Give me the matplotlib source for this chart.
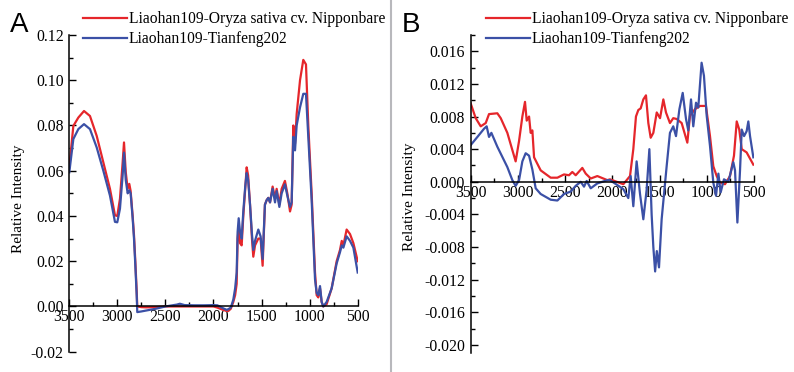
import numpy as np
import matplotlib
matplotlib.use("Agg")
import matplotlib.pyplot as plt
from matplotlib.ticker import MultipleLocator, FormatStrFormatter

plt.rcParams['font.family'] = ['Liberation Serif', 'DejaVu Serif']
plt.rcParams['axes.unicode_minus'] = False

RED = "#e5262b"
BLUE = "#3b50a6"
labels = ["Liaohan109-Oryza sativa cv. Nipponbare", "Liaohan109-Tianfeng202"]

# panel A: wavenumber / relative intensity
a_wn = [3500, 3458, 3406, 3347, 3285, 3215, 3146, 3077, 3025, 3001, 2973, 2945, 2931, 2913,
        2893, 2876, 2862, 2841, 2827, 2813, 2799, 2793, 2750, 2700, 2600, 2500, 2400, 2383,
        2350, 2300, 2200, 2100, 2000, 1960, 1900, 1863, 1846, 1820, 1794, 1775, 1759,
        1749, 1738, 1724, 1707, 1690, 1670, 1655, 1640, 1620, 1600, 1586, 1568, 1534,
        1510, 1489, 1465, 1447, 1430, 1412, 1385, 1360, 1343, 1315, 1291, 1257, 1232,
        1204, 1187, 1170, 1152, 1135, 1100, 1066, 1038, 1014, 979, 944, 927, 910, 892,
        875, 858, 823, 771, 719, 684, 666, 649, 615, 580, 545, 500]
a_red = [0.0615, 0.0798, 0.0835, 0.0864, 0.0842, 0.0754, 0.0637, 0.052, 0.0403, 0.040, 0.0476, 0.0637, 0.0725, 0.0595,
         0.052, 0.0542, 0.051, 0.040, 0.0315, 0.0198, 0.0067, 0.000, -0.0003, -0.0004, -0.0003, 0.0, 0.0, 0.0,
         0.0, 0.0, 0.0, 0.0, 0.0, -0.0005, -0.0015, -0.002, -0.002, -0.001, 0.002, 0.005, 0.010,
         0.030, 0.035, 0.028, 0.027, 0.040, 0.052, 0.0615, 0.058, 0.045, 0.030, 0.022, 0.027, 0.030,
         0.030, 0.018, 0.045, 0.047, 0.048, 0.046, 0.053, 0.048, 0.052, 0.045, 0.052, 0.0555, 0.050,
         0.042, 0.045, 0.080, 0.072, 0.085, 0.100, 0.109, 0.107, 0.080, 0.050, 0.015, 0.005, 0.004, 0.008,
         0.002, 0.000, 0.001, 0.008, 0.020, 0.025, 0.029, 0.027, 0.034, 0.032, 0.028, 0.020]
a_blue = [0.0593, 0.074, 0.0784, 0.0806, 0.0784, 0.0703, 0.060, 0.049, 0.0374, 0.0372, 0.0432, 0.058, 0.068, 0.056,
          0.050, 0.0513, 0.050, 0.039, 0.030, 0.018, 0.005, -0.0025, -0.0022, -0.0018, -0.001, 0.0, 0.0007, 0.0008,
          0.0012, 0.0006, 0.0005, 0.0005, 0.0006, 0.0005, -0.0008, -0.0015, -0.0012, -0.0005, 0.003, 0.008, 0.015,
          0.033, 0.039, 0.033, 0.030, 0.042, 0.053, 0.059, 0.056, 0.045, 0.032, 0.025, 0.029, 0.034,
          0.031, 0.021, 0.045, 0.047, 0.048, 0.046, 0.052, 0.046, 0.051, 0.044, 0.050, 0.054, 0.049,
          0.044, 0.046, 0.075, 0.069, 0.080, 0.088, 0.094, 0.094, 0.075, 0.047, 0.012, 0.006, 0.005, 0.009,
          0.002, 0.000, 0.002, 0.008, 0.019, 0.024, 0.027, 0.026, 0.031, 0.029, 0.026, 0.015]

# panel B: difference spectra
b_red_wn = [3500, 3447, 3394, 3341, 3306, 3218, 3182, 3112, 3024, 2988, 2953, 2925, 2907,
            2882, 2865, 2847, 2829, 2794, 2759, 2653, 2582, 2512, 2459, 2424, 2388, 2318,
            2282, 2229, 2159, 2053, 2025, 1884, 1813, 1778, 1750, 1725, 1700, 1672, 1644,
            1619, 1594, 1566, 1530, 1495, 1460, 1432, 1390, 1355, 1319, 1266, 1206, 1178,
            1125, 1072, 1009, 966, 931, 895, 860, 807, 754, 712, 683, 656, 630, 578, 507]
b_red = [0.0096, 0.0078, 0.0068, 0.0072, 0.0083, 0.0084, 0.0078, 0.0060, 0.0025, 0.0050, 0.0080, 0.0098, 0.0075,
         0.0080, 0.0060, 0.0063, 0.0030, 0.0022, 0.0014, 0.0005, 0.0005, 0.0009, 0.0008, 0.0012, 0.0008, 0.0017,
         0.0010, 0.0004, 0.0007, 0.0002, 0.0003, -0.0003, 0.0007, 0.0040, 0.0080, 0.0088, 0.0090, 0.0101, 0.0106,
         0.0072, 0.0054, 0.0060, 0.0085, 0.0078, 0.0101, 0.0085, 0.0072, 0.0078, 0.0077, 0.0072, 0.0048, 0.0081,
         0.0089, 0.0093, 0.0093, 0.0056, 0.0019, 0.0007, -0.0001, -0.0003, 0.0007, 0.0032, 0.0074, 0.0064, 0.0040,
         0.0036, 0.0021]
b_blue_wn = [3500, 3429, 3359, 3331, 3306, 3281, 3218, 3112, 3059, 3024, 2988, 2953, 2918,
             2882, 2847, 2812, 2759, 2653, 2582, 2512, 2441, 2388, 2335, 2300, 2272, 2229,
             2159, 2053, 2025, 1884, 1831, 1806, 1778, 1743, 1707, 1672, 1637, 1608, 1584,
             1566, 1547, 1529, 1506, 1478, 1425, 1390, 1355, 1326, 1290, 1255, 1220, 1196,
             1167, 1143, 1114, 1090, 1055, 1030, 1001, 966, 931, 902, 877, 853, 818, 772,
             719, 701, 676, 648, 630, 605, 578, 560, 542, 507]
b_blue = [0.0045, 0.0055, 0.0065, 0.0068, 0.0055, 0.0060, 0.0043, 0.0018, 0.0002, -0.0005, 0.0002, 0.0025, 0.0035,
          0.0032, 0.0015, -0.0008, -0.0015, -0.0022, -0.0023, -0.0015, -0.0012, -0.0005, 0.0000, -0.0006, 0.0001, -0.0008,
          -0.0002, 0.0002, 0.0002, -0.0009, -0.0020, 0.0007, -0.0030, 0.0025, -0.0015, -0.0046, -0.0010, 0.0040, -0.0040,
          -0.0080, -0.0110, -0.0085, -0.0105, -0.0046, 0.0019, 0.0060, 0.0068, 0.0056, 0.0089, 0.0109, 0.0077, 0.0063,
          0.0101, 0.0068, 0.0097, 0.0091, 0.0146, 0.0130, 0.0081, 0.0044, -0.0001, -0.0017, 0.0010, -0.0013, 0.0003, 0.0000,
          0.0024, 0.0014, -0.0050, 0.0014, 0.0064, 0.0056, 0.0062, 0.0074, 0.0056, 0.0030]


def style_axis(ax, ymin, ymax, major, minor, fmt):
    ax.set_xlim(3500, 500)
    ax.set_ylim(ymin, ymax)
    ax.spines['top'].set_visible(False)
    ax.spines['right'].set_visible(False)
    ax.spines['bottom'].set_position(('data', 0))
    for s in ('left', 'bottom'):
        ax.spines[s].set_linewidth(1.1)
    ax.xaxis.set_major_locator(MultipleLocator(500))
    ax.xaxis.set_minor_locator(MultipleLocator(250))
    ax.yaxis.set_major_locator(MultipleLocator(major))
    ax.yaxis.set_minor_locator(MultipleLocator(minor))
    ax.yaxis.set_major_formatter(FormatStrFormatter(fmt))
    ax.tick_params(which='both', direction='in', labelsize=11.3, width=1.0)
    ax.tick_params(which='major', length=5)
    ax.tick_params(which='minor', length=3)
    ax.tick_params(axis='x', pad=2)
    ax.tick_params(axis='y', pad=4)
    ax.patch.set_visible(False)


fig = plt.figure(figsize=(7.94, 3.72), dpi=100)
W, H = 794.0, 372.0
axA = fig.add_axes([69.3 / W, 1 - 351.7 / H, (357.7 - 69.3) / W, (351.7 - 35) / H])
axB = fig.add_axes([470.7 / W, 1 - 353 / H, (754 - 470.7) / W, (353 - 35) / H])

axA.plot(a_wn, a_red, color=RED, lw=1.6, label=labels[0])
axA.plot(a_wn, a_blue, color=BLUE, lw=1.6, label=labels[1])
style_axis(axA, -0.02, 0.12, 0.02, 0.01, '%.2f')

axB.plot(b_red_wn, b_red, color=RED, lw=1.6, label=labels[0])
axB.plot(b_blue_wn, b_blue, color=BLUE, lw=1.6, label=labels[1])
style_axis(axB, -0.021, 0.018, 0.004, 0.002, '%.3f')

for ax, lx in ((axA, 83 / W), (axB, 486 / W)):
    ax.legend(loc='upper left', bbox_to_anchor=(lx, 1 - 11 / H), bbox_transform=fig.transFigure,
              frameon=False, fontsize=11.2, handlelength=2.8, handletextpad=0.15,
              labelspacing=0.28, borderpad=0, borderaxespad=0)

fig.text(19 / W, 1 - 199 / H, "Relative Intensity", rotation=90, ha='center', va='center', fontsize=11)
fig.text(410 / W, 1 - 197 / H, "Relative Intensity", rotation=90, ha='center', va='center', fontsize=11)
fig.text(10 / W, 1 - 25 / H, "A", fontsize=20, family='Liberation Sans', ha='left', va='center')
fig.text(402 / W, 1 - 25 / H, "B", fontsize=20, family='Liberation Sans', ha='left', va='center')

fig.add_artist(plt.Line2D([391 / W, 391 / W], [0, 1], transform=fig.transFigure, color='#b8b8bc', lw=1.5))

fig.savefig("out.png", dpi=100)
